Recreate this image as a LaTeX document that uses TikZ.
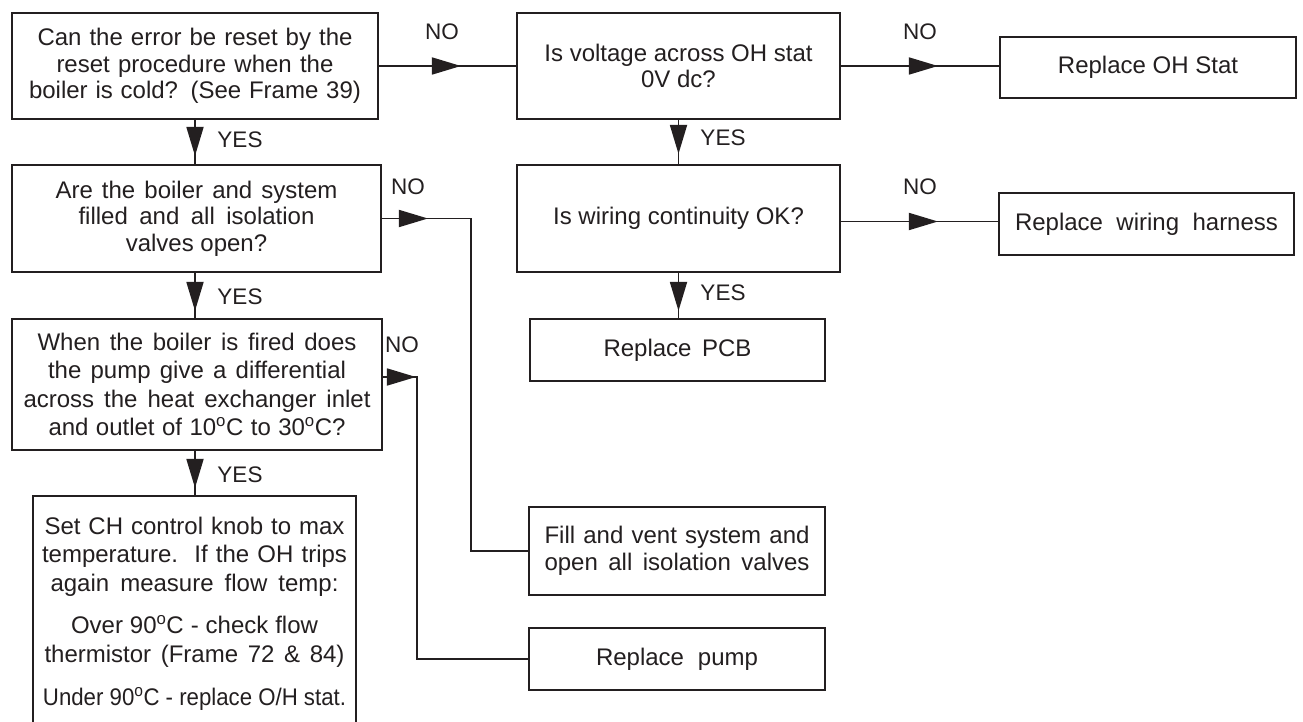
\documentclass[tikz,border=0pt]{standalone}
\usepackage{fontspec}
\usepackage{graphicx}
\setmainfont{Liberation Sans}
\usetikzlibrary{arrows.meta,decorations.markings}
\definecolor{ink}{HTML}{231F20}
\newcommand{\boxfont}{\fontsize{24}{26.7}\selectfont}
\newcommand{\labfont}{\fontsize{22.5}{26}\selectfont}
\newcommand{\dg}{\textsuperscript{o}}
\newsavebox\jlbox
\newcommand{\jl}[2]{\sbox\jlbox{#2}\ifdim\wd\jlbox>#1pt\relax\pgfmathparse{#1/\wd\jlbox}\scalebox{\pgfmathresult}[1]{\usebox\jlbox}\else\makebox[#1pt][s]{#2}\fi}
\begin{document}
\begin{tikzpicture}[x=1pt,y=-1pt,
  box/.style={draw=ink, line width=1.8pt, inner sep=0pt, align=center, font=\boxfont, text=ink},
  conn/.style={draw=ink, color=ink, line width=1.8pt},
  tipat/.style={postaction={decorate}, decoration={markings, mark=at position #1 with {\arrow{Triangle[length=29pt,width=17pt]}}}},
  lab/.style={font=\labfont, text=ink, inner sep=0pt}]
\fill[white] (0,0) rectangle (1303,722);
\useasboundingbox (0,0) rectangle (1303,722);

% left column
\node[box, minimum width=366pt, minimum height=106pt] (A) at (195,66)
  {\jl{315}{Can the error be reset by the}\\\jl{277}{reset procedure when the}\\\jl{332}{boiler is cold? (See Frame 39)}};
\node[box, minimum width=369pt, minimum height=107pt] (B) at (196.5,218.5)
  {\jl{282}{Are the boiler and system}\\\jl{236}{filled and all isolation}\\valves open?};
\node[box, minimum width=370pt, minimum height=131pt, font=\fontsize{24}{28.3}\selectfont] (C) at (197,384.5)
  {\jl{319}{When the boiler is fired does}\\\jl{298}{the pump give a differential}\\\jl{347}{across the heat exchanger inlet}\\\jl{297}{and outlet of 10\dg C to 30\dg C?}};
\node[box, minimum width=323pt, minimum height=236pt, font=\fontsize{24}{28.5}\selectfont] (D) at (194.5,614)
  {\jl{300}{Set CH control knob to max}\\\jl{305}{temperature.\ \ If the OH trips}\\\jl{288}{again measure flow temp:}\\[14pt]\jl{247}{Over 90\dg C - check flow}\\\jl{300}{thermistor (Frame 72 \& 84)}\\[15pt]\jl{303}{Under 90\dg C - replace O/H stat.}};

% middle column
\node[box, minimum width=323pt, minimum height=106pt] (V) at (678.5,66)
  {Is voltage across OH stat\\0V dc?};
\node[box, minimum width=323pt, minimum height=107pt] (W) at (678.5,218.5)
  {Is wiring continuity OK?};
\node[box, minimum width=295pt, minimum height=62pt] (P) at (677.5,350)
  {\jl{148}{Replace PCB}};
\node[box, minimum width=296pt, minimum height=88pt] (F) at (677,551)
  {\jl{265}{Fill and vent system and}\\\jl{265}{open all isolation valves}};
\node[box, minimum width=296pt, minimum height=62pt] (Pm) at (677,659)
  {\jl{162}{Replace pump}};

% right column
\node[box, minimum width=296pt, minimum height=61pt] (OH) at (1148,67.5)
  {Replace OH Stat};
\node[box, minimum width=295pt, minimum height=62pt] (H) at (1146.5,224)
  {\jl{263}{Replace wiring harness}};

% bend points
\coordinate (bk) at (471,0);
\coordinate (ck) at (417,0);

% connectors
\draw[conn, tipat=82pt] (A.east) -- (V.west);
\draw[conn, tipat=97pt] (V.east) -- (V.east -| OH.west);
\draw[conn, tipat=97pt] ([yshift=-3pt]W.east) -- ([yshift=-3pt]W.east -| H.west);
\draw[conn, tipat=34pt] (V.south) -- (W.north);
\draw[conn, tipat=38pt] (W.south) -- (W.south |- P.north);
\draw[conn, tipat=36pt] (A.south) -- (A.south |- B.north);
\draw[conn, tipat=38pt] (A.south |- B.south) -- (A.south |- C.north);
\draw[conn, tipat=37pt] (A.south |- C.south) -- (A.south |- D.north);
\draw[conn, tipat=46pt] (B.east) -| (bk |- F.west) -- (F.west);
\draw[conn, tipat=33pt] ([yshift=7.5pt]C.east) -| (ck |- Pm.west) -- (Pm.west);

% labels
\node[lab] (n1) at (442,32) {NO};
\node[lab] (n2) at (920,32) {NO};
\node[lab] (n3) at (920,187) {NO};
\node[lab] (n4) at (408,187) {NO};
\node[lab] (n5) at (402,345) {NO};
\node[lab] (y1) at (240,140) {YES};
\node[lab] (y2) at (240,297) {YES};
\node[lab] (y3) at (240,475) {YES};
\node[lab] (y4) at (723,138) {YES};
\node[lab] (y5) at (723,293) {YES};
\end{tikzpicture}
\end{document}
